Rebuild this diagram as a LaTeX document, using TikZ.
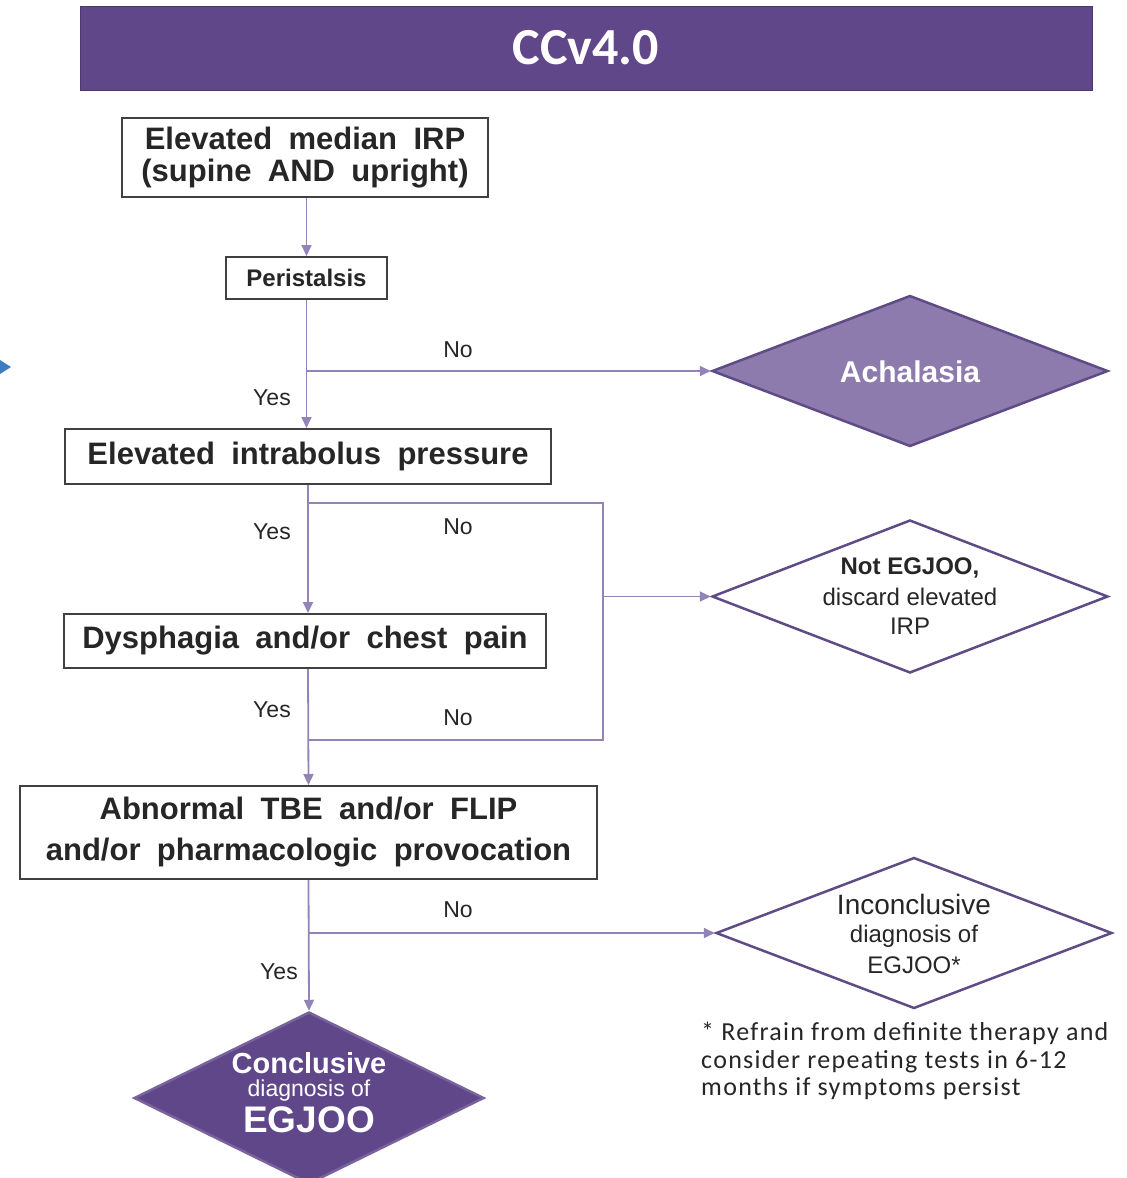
\documentclass[tikz,border=0pt]{standalone}
\usepackage{fontspec}
\setmainfont{Liberation Sans}
\newfontfamily\calib{Carlito}
\newfontfamily\calibsp[LetterSpace=5]{Carlito}
\newfontfamily\boxfont[WordSpace=1.9]{Liberation Sans}
\usetikzlibrary{shapes.geometric,arrows.meta}
\definecolor{hdr}{HTML}{60478A}
\definecolor{achfill}{HTML}{8E7BAE}
\definecolor{diac}{HTML}{5F4B85}
\definecolor{arrc}{HTML}{9383B8}
\definecolor{boxc}{HTML}{404040}
\definecolor{txt}{HTML}{262626}
\definecolor{bluetip}{HTML}{3F7CC4}
\begin{document}
\begin{tikzpicture}[x=1pt,y=-1pt,
  box/.style={draw=boxc, line width=2pt, inner sep=0pt, text=txt, align=center,
    font=\boxfont\bfseries\fontsize{31}{32}\selectfont},
  dia/.style={diamond, draw=diac, line width=2.5pt, inner sep=0pt},
  arr/.style={draw=arrc, line width=1.8pt, -{Triangle[length=11pt,width=10pt]}},
  ln/.style={draw=arrc, line width=1.8pt},
  lbl/.style={text=txt, inner sep=0pt, font=\fontsize{23}{23}\selectfont},
  dtxt/.style={text=txt, inner sep=0pt, align=center}]
\useasboundingbox (0,0) rectangle (1127,1178);
\fill[white] (0,0) rectangle (1127,1178);

% header
\node[fill=hdr, draw=hdr!80!black, line width=0.8pt, minimum width=1012pt, minimum height=84pt, inner sep=0pt,
  text=white, font=\calib\bfseries\fontsize{52}{52}\selectfont] (hd) at (586,48) {\raisebox{-2pt}{CCv4.0}};

% stray blue arrow tip at left edge
\fill[bluetip] (0,360) -- (11,367) -- (0,374) -- cycle;

% boxes
\node[box, minimum width=366pt, minimum height=79pt] (b1) at (305,157.5)
  {Elevated median IRP\\(supine AND upright)};
\node[box, minimum width=161pt, minimum height=42pt, font=\bfseries\fontsize{24}{24}\selectfont] (per) at (306.5,278) {Peristalsis};
\node[box, minimum width=486pt, minimum height=55pt] (b3) at (308,456.5) {Elevated intrabolus pressure};
\node[box, minimum width=482pt, minimum height=54pt] (b4) at (305,641) {Dysphagia and/or chest pain};
\node[box, minimum width=577pt, minimum height=93pt, font=\boxfont\bfseries\fontsize{31}{41}\selectfont] (b5) at (308.5,832.5)
  {Abnormal TBE and/or FLIP\\and/or pharmacologic provocation};

% diamonds
\node[dia, fill=achfill, minimum width=396pt, minimum height=151pt] (ach) at (910,371) {};
\node[text=white, inner sep=0pt, font=\bfseries\fontsize{30}{30}\selectfont] (achT) at (910,372) {Achalasia};

\node[dia, fill=white, minimum width=396pt, minimum height=153pt] (neg) at (910,596.5) {};
\node[dtxt, font=\bfseries\fontsize{24}{24}\selectfont] (negA) at (910,568) {Not EGJOO,};
\node[dtxt, font=\fontsize{24}{24}\selectfont] (negB) at (910,597) {discard elevated};
\node[dtxt, font=\fontsize{24}{24}\selectfont] (negC) at (910,626) {IRP};

\node[dia, fill=white, minimum width=396pt, minimum height=151pt] (inc) at (914,933) {};
\node[dtxt, font=\fontsize{28}{28}\selectfont] (incA) at (914,904) {Inconclusive};
\node[dtxt, font=\fontsize{24}{24}\selectfont] (incB) at (914,936) {diagnosis of};
\node[dtxt, font=\fontsize{24}{24}\selectfont] (incC) at (914,965) {EGJOO*};

\node[dia, fill=hdr, draw=hdr!85!white, minimum width=350pt, minimum height=172pt] (con) at (309,1098) {};
\node[text=white, inner sep=0pt, font=\bfseries\fontsize{29}{29}\selectfont] (conA) at (309,1063) {Conclusive};
\node[text=white, inner sep=0pt, font=\fontsize{23}{23}\selectfont] (conB) at (309,1091) {diagnosis of};
\node[text=white, inner sep=0pt, font=\bfseries\fontsize{37}{37}\selectfont] (conC) at (309,1120) {EGJOO};

% footnote
\node[anchor=west, text=txt, inner sep=0pt, align=left, font=\calibsp\fontsize{26}{27.5}\selectfont] (fn) at (701,1061)
  {* Refrain from definite therapy and\\consider repeating tests in 6-12\\months if symptoms persist};

% junctions
\coordinate (j1) at (307,371);
\coordinate (j2) at (308,503);
\coordinate (j3) at (308,740);
\coordinate (cm) at (603,596.5);
\coordinate (j4) at (308,933);

% connectors
\draw[arr] (per.north |- b1.south) -- (per.north);
\draw[arr] (per.south) -- (per.south |- b3.north);
\draw[arr] (j1) -- (ach.west);
\draw[arr] (b3.south) -- (b3.south |- b4.north);
\draw[ln] (j2) -| (cm);
\draw[ln] (j3) -| (cm);
\draw[arr] (cm) -- (neg.west);
\draw[arr] (b3.south |- b4.south) -- (b5.north);
\draw[arr] (b5.south) -- (con.north);
\draw[arr] (j4) -- (inc.west);

% labels
\node[lbl] (n1) at (458,350) {No};
\node[lbl] (y1) at (272,398) {Yes};
\node[lbl] (n2) at (458,527) {No};
\node[lbl] (y2) at (272,532) {Yes};
\node[lbl] (n3) at (458,718) {No};
\node[lbl] (y3) at (272,710) {Yes};
\node[lbl] (n4) at (458,910) {No};
\node[lbl] (y4) at (279,972) {Yes};
\end{tikzpicture}
\end{document}
